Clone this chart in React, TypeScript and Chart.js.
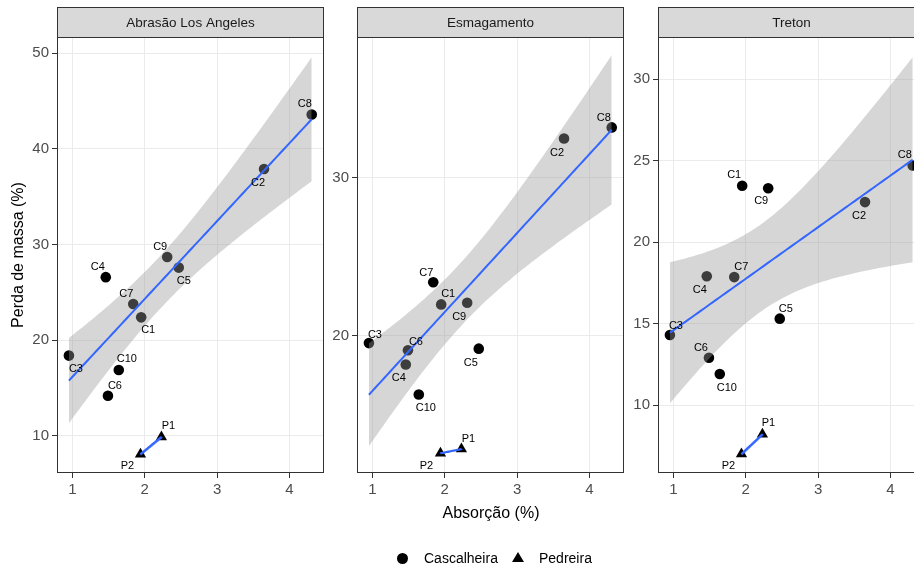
import React, { useEffect, useRef } from 'react';
import { Chart, registerables } from 'chart.js';

Chart.register(...registerables);

// ---------------- data ----------------
const CASCALHEIRA_LABELS = ['C1', 'C2', 'C3', 'C4', 'C5', 'C6', 'C7', 'C8', 'C9', 'C10'];
const PEDREIRA_LABELS = ['P1', 'P2'];

const ABSORCAO_C = [1.95, 3.65, 0.95, 1.46, 2.47, 1.49, 1.84, 4.31, 2.31, 1.64];
const ABSORCAO_P = [2.23, 1.94];

const LOS_ANGELES_C = [22.4, 37.9, 18.4, 26.6, 27.6, 14.2, 23.8, 43.6, 28.7, 16.9];
const LOS_ANGELES_P = [9.9, 8.1];

const ESMAGAMENTO_C = [22.0, 32.5, 19.55, 18.2, 19.2, 19.1, 23.4, 33.2, 22.1, 16.3];
const ESMAGAMENTO_P = [12.85, 12.58];

const TRETON_C = [23.45, 22.45, 14.3, 17.9, 15.3, 12.9, 17.85, 24.7, 23.3, 11.9];
const TRETON_P = [8.2, 7.0];

const PANEL_TITLES = ['Abrasão Los Angeles', 'Esmagamento', 'Treton'];

const X_TICKS = [1, 2, 3, 4];
const X_RANGE = [0.785, 4.48];

const Y_TICKS_LA = [10, 20, 30, 40, 50];
const Y_TICKS_ESM = [20, 30];
const Y_TICKS_TRE = [10, 15, 20, 25, 30];

const Y_RANGE_LA = [6.13, 51.7];
const Y_RANGE_ESM = [11.33, 38.92];
const Y_RANGE_TRE = [5.83, 32.58];

const SERIES_NAMES = ['Cascalheira', 'Pedreira'];

// Student t 0.975 quantile, df = n - 2 = 8
const T_975: Record<number, number> = { 8: 2.306004 };

// ---------------- label offsets (style / layout) ----------------
const OFF_LA_C = [[7, 13], [-6, 14], [7, 13], [-8, -10], [5, 13], [7, -10], [-7, -10], [-7, -11], [-7, -10], [8, -11]];
const OFF_LA_P = [[7, -11], [-13, 12]];
const OFF_ESM_C = [[7, -10], [-7, 15], [6, -8], [-7, 14], [-8, 14], [8, -8], [-7, -9], [-8, -9], [-8, 14], [7, 14]];
const OFF_ESM_P = [[7, -10], [-14, 13]];
const OFF_TRE_C = [[-8, -11], [-6, 14], [6, -9], [-7, 14], [6, -10], [-8, -10], [7, -10], [-8, -10], [-7, 13], [7, 14]];
const OFF_TRE_P = [[6, -11], [-13, 12]];

// ---------------- layout ----------------
const FONT = '"Liberation Sans", Arial, Helvetica, sans-serif';
const PANEL_LEFTS = [57, 357, 658];
const PANEL_W = 267;
const PLOT_TOP = 37;
const PLOT_BOTTOM = 473;
const STRIP_TOP = 7;
const Y_AXIS_W = 45;
const X_AXIS_H = 40;
const CANVAS_W = 57 + PANEL_W + 12;
const CANVAS_H = 567;

function linearFit(xs: number[], ys: number[]) {
  const n = xs.length;
  const mx = xs.reduce((a, b) => a + b, 0) / n;
  const my = ys.reduce((a, b) => a + b, 0) / n;
  let sxx = 0;
  let sxy = 0;
  for (let i = 0; i < n; i++) {
    sxx += (xs[i] - mx) ** 2;
    sxy += (xs[i] - mx) * (ys[i] - my);
  }
  const b = sxy / sxx;
  const a = my - b * mx;
  let sse = 0;
  for (let i = 0; i < n; i++) sse += (ys[i] - (a + b * xs[i])) ** 2;
  const s = n > 2 ? Math.sqrt(sse / (n - 2)) : NaN;
  return { a, b, s, sxx, mx, n };
}

function smooth(xs: number[], ys: number[]) {
  const f = linearFit(xs, ys);
  const lo = Math.min(...xs);
  const hi = Math.max(...xs);
  const N = 80;
  const line: { x: number; y: number }[] = [];
  const upper: { x: number; y: number }[] = [];
  const lower: { x: number; y: number }[] = [];
  const t = T_975[f.n - 2];
  for (let i = 0; i < N; i++) {
    const x = lo + ((hi - lo) * i) / (N - 1);
    const y = f.a + f.b * x;
    line.push({ x, y });
    if (t) {
      const se = f.s * Math.sqrt(1 / f.n + (x - f.mx) ** 2 / f.sxx);
      upper.push({ x, y: y + t * se });
      lower.push({ x, y: y - t * se });
    }
  }
  return { line, upper, lower };
}

const facetPlugin = {
  id: 'facet',
  afterDatasetsDraw(chart: any, _args: any, opts: any) {
    const ctx = chart.ctx;
    ctx.save();
    ctx.font = `11px ${FONT}`;
    ctx.fillStyle = '#000000';
    ctx.textAlign = 'center';
    ctx.textBaseline = 'middle';
    (opts.labels || []).forEach((grp: any) => {
      const meta = chart.getDatasetMeta(grp.datasetIndex);
      meta.data.forEach((el: any, i: number) => {
        const off = grp.offsets[i] || [0, 0];
        ctx.fillText(grp.names[i], el.x + off[0], el.y + off[1]);
      });
    });
    ctx.restore();
  },
  afterDraw(chart: any, _args: any, opts: any) {
    const ctx = chart.ctx;
    const { left, right, top, bottom } = chart.chartArea;
    ctx.save();
    ctx.lineWidth = 1;
    ctx.strokeStyle = '#333333';
    ctx.strokeRect(left + 0.5, top + 0.5, right - left - 1, bottom - top - 1);
    ctx.fillStyle = '#D9D9D9';
    ctx.fillRect(left, STRIP_TOP, right - left, top - STRIP_TOP);
    ctx.strokeRect(left + 0.5, STRIP_TOP + 0.5, right - left - 1, top - STRIP_TOP);
    ctx.fillStyle = '#1A1A1A';
    ctx.font = `13.5px ${FONT}`;
    ctx.textAlign = 'center';
    ctx.textBaseline = 'middle';
    ctx.fillText(opts.title, (left + right) / 2, (STRIP_TOP + top) / 2 + 1);
    ctx.restore();
  },
};

type PanelCfg = {
  title: string;
  yc: number[];
  yp: number[];
  yTicks: number[];
  yRange: number[];
  offC: number[][];
  offP: number[][];
};

function Panel({ cfg, left }: { cfg: PanelCfg; left: number }) {
  const ref = useRef<HTMLCanvasElement>(null);
  useEffect(() => {
    if (!ref.current) return;
    const sC = smooth(ABSORCAO_C, cfg.yc);
    const sP = smooth(ABSORCAO_P, cfg.yp);
    const ptsC = ABSORCAO_C.map((x, i) => ({ x, y: cfg.yc[i] }));
    const ptsP = ABSORCAO_P.map((x, i) => ({ x, y: cfg.yp[i] }));
    const blue = '#3366FF';
    const chart = new Chart(ref.current, {
      type: 'line',
      data: {
        datasets: [
          { label: SERIES_NAMES[0] + ' fit', data: sC.line, borderColor: blue, borderWidth: 2, pointRadius: 0, fill: false, order: 1, tension: 0 },
          { label: SERIES_NAMES[1] + ' fit', data: sP.line, borderColor: blue, borderWidth: 2, pointRadius: 0, fill: false, order: 1, tension: 0 },
          { label: 'upper', data: sC.upper, borderWidth: 0, borderColor: 'rgba(0,0,0,0)', pointRadius: 0, backgroundColor: 'rgba(153,153,153,0.4)', fill: '+1', order: 2 },
          { label: 'lower', data: sC.lower, borderWidth: 0, borderColor: 'rgba(0,0,0,0)', pointRadius: 0, fill: false, order: 2 },
          { label: SERIES_NAMES[0], data: ptsC, showLine: false, pointStyle: 'circle', pointRadius: 5.3, pointBorderWidth: 0, pointBackgroundColor: '#000000', pointBorderColor: '#000000', order: 3 },
          { label: SERIES_NAMES[1], data: ptsP, showLine: false, pointStyle: 'triangle', pointRadius: 6.5, pointBorderWidth: 0, pointBackgroundColor: '#000000', pointBorderColor: '#000000', order: 3 },
        ] as any,
      },
      options: {
        responsive: false,
        animation: false,
        devicePixelRatio: 1,
        events: [],
        layout: {
          padding: {
            left: 57 - Y_AXIS_W,
            right: CANVAS_W - 57 - PANEL_W,
            top: PLOT_TOP,
            bottom: CANVAS_H - PLOT_BOTTOM - X_AXIS_H,
          },
        },
        plugins: {
          legend: { display: false },
          tooltip: { enabled: false },
          facet: {
            title: cfg.title,
            labels: [
              { datasetIndex: 4, names: CASCALHEIRA_LABELS, offsets: cfg.offC },
              { datasetIndex: 5, names: PEDREIRA_LABELS, offsets: cfg.offP },
            ],
          },
        } as any,
        scales: {
          x: {
            type: 'linear',
            min: X_RANGE[0],
            max: X_RANGE[1],
            afterBuildTicks: (s: any) => {
              s.ticks = X_TICKS.map((v) => ({ value: v }));
            },
            afterFit: (s: any) => {
              s.height = X_AXIS_H;
            },
            grid: { color: '#EBEBEB', tickColor: '#333333', tickLength: 5, lineWidth: 1 },
            border: { display: false },
            ticks: { color: '#4D4D4D', font: { family: FONT, size: 15 }, padding: 3, maxRotation: 0, autoSkip: false },
          },
          y: {
            type: 'linear',
            min: cfg.yRange[0],
            max: cfg.yRange[1],
            afterBuildTicks: (s: any) => {
              s.ticks = cfg.yTicks.map((v) => ({ value: v }));
            },
            afterFit: (s: any) => {
              s.width = Y_AXIS_W;
            },
            grid: { color: '#EBEBEB', tickColor: '#333333', tickLength: 5, lineWidth: 1 },
            border: { display: false },
            ticks: { color: '#4D4D4D', font: { family: FONT, size: 15 }, padding: 3, autoSkip: false },
          },
        },
      } as any,
      plugins: [facetPlugin as any],
    });
    return () => chart.destroy();
  }, [cfg]);
  return (
    <canvas
      ref={ref}
      width={CANVAS_W}
      height={CANVAS_H}
      style={{ position: 'absolute', left: left - 57, top: 0, width: CANVAS_W, height: CANVAS_H }}
    />
  );
}

const PANELS: PanelCfg[] = [
  { title: PANEL_TITLES[0], yc: LOS_ANGELES_C, yp: LOS_ANGELES_P, yTicks: Y_TICKS_LA, yRange: Y_RANGE_LA, offC: OFF_LA_C, offP: OFF_LA_P },
  { title: PANEL_TITLES[1], yc: ESMAGAMENTO_C, yp: ESMAGAMENTO_P, yTicks: Y_TICKS_ESM, yRange: Y_RANGE_ESM, offC: OFF_ESM_C, offP: OFF_ESM_P },
  { title: PANEL_TITLES[2], yc: TRETON_C, yp: TRETON_P, yTicks: Y_TICKS_TRE, yRange: Y_RANGE_TRE, offC: OFF_TRE_C, offP: OFF_TRE_P },
];

export default function App() {
  return (
    <div
      style={{
        position: 'absolute',
        left: 0,
        top: 0,
        width: 914,
        height: 567,
        overflow: 'hidden',
        background: '#FFFFFF',
        fontFamily: FONT,
      }}
    >
      {PANELS.map((p, i) => (
        <Panel key={p.title} cfg={p} left={PANEL_LEFTS[i]} />
      ))}
      <div
        style={{
          position: 'absolute',
          left: 18 - 100,
          top: 255 - 10,
          width: 200,
          height: 20,
          lineHeight: '20px',
          textAlign: 'center',
          fontSize: 16,
          color: '#000',
          transform: 'rotate(-90deg)',
          whiteSpace: 'nowrap',
        }}
      >
        Perda de massa (%)
      </div>
      <div
        style={{
          position: 'absolute',
          left: 491 - 100,
          top: 513 - 10,
          width: 200,
          height: 20,
          lineHeight: '20px',
          textAlign: 'center',
          fontSize: 16,
          color: '#000',
          whiteSpace: 'nowrap',
        }}
      >
        Absorção (%)
      </div>
      <div
        style={{
          position: 'absolute',
          left: 402 - 5.5,
          top: 558 - 5.5,
          width: 11,
          height: 11,
          borderRadius: '50%',
          background: '#000',
        }}
      />
      <div
        style={{
          position: 'absolute',
          left: 424,
          top: 558 - 9,
          height: 18,
          lineHeight: '18px',
          fontSize: 14,
          color: '#000',
          whiteSpace: 'nowrap',
        }}
      >
        {SERIES_NAMES[0]}
      </div>
      <div
        style={{
          position: 'absolute',
          left: 518 - 6,
          top: 558 - 6,
          width: 0,
          height: 0,
          borderLeft: '6px solid transparent',
          borderRight: '6px solid transparent',
          borderBottom: '10px solid #000',
        }}
      />
      <div
        style={{
          position: 'absolute',
          left: 539,
          top: 558 - 9,
          height: 18,
          lineHeight: '18px',
          fontSize: 14,
          color: '#000',
          whiteSpace: 'nowrap',
        }}
      >
        {SERIES_NAMES[1]}
      </div>
    </div>
  );
}
